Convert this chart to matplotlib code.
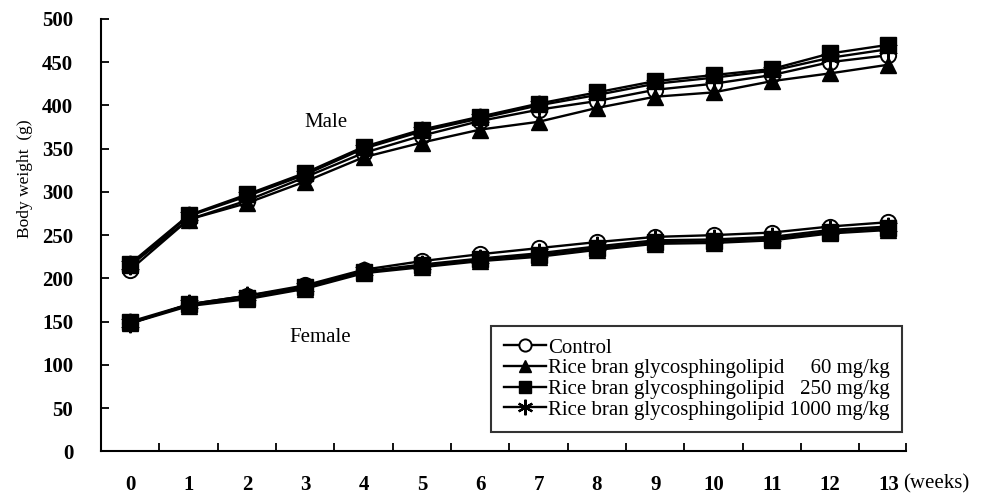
import matplotlib
matplotlib.use("Agg")
import matplotlib.pyplot as plt

plt.rcParams['font.family'] = ['Liberation Serif', 'DejaVu Serif']

# Data
weeks = list(range(14))
week_labels = [str(w) for w in weeks]

male_control = [210, 268, 290, 317, 345, 365, 382, 395, 405, 418, 425, 435, 450, 458]
male_60 = [215, 268, 287, 312, 340, 357, 372, 381, 397, 410, 415, 428, 437, 447]
male_250 = [217, 273, 297, 322, 352, 372, 387, 402, 415, 428, 435, 442, 460, 470]
male_1000 = [215, 272, 295, 320, 350, 370, 385, 400, 412, 425, 432, 440, 455, 465]

female_control = [148, 170, 180, 192, 210, 220, 228, 235, 242, 248, 250, 253, 260, 265]
female_60 = [148, 168, 176, 188, 206, 213, 220, 225, 233, 240, 241, 244, 252, 256]
female_250 = [150, 170, 177, 190, 207, 215, 222, 227, 235, 242, 243, 246, 254, 258]
female_1000 = [148, 170, 180, 190, 208, 216, 223, 229, 237, 244, 245, 248, 256, 260]

labels = ['Control',
          'Rice bran glycosphingolipid     60 mg/kg',
          'Rice bran glycosphingolipid   250 mg/kg',
          'Rice bran glycosphingolipid 1000 mg/kg']

fig = plt.figure(figsize=(9.82, 4.97), dpi=100)
ax = fig.add_axes([0.1029, 0.0916, 0.8197, 0.8705])

styles = [
    dict(marker='o', mfc='white', mec='black', ms=11, mew=1.4),
    dict(marker='^', mfc='black', mec='black', ms=11),
    dict(marker='s', mfc='black', mec='black', ms=11),
    dict(marker=(6, 2, 0), mfc='black', mec='black', ms=14, mew=1.6),
]

male = [male_control, male_60, male_250, male_1000]
female = [female_control, female_60, female_250, female_1000]

handles = []
for i in range(4):
    h, = ax.plot(weeks, male[i], color='black', lw=1.7, label=labels[i], **styles[i])
    ax.plot(weeks, female[i], color='black', lw=1.7, **styles[i])
    handles.append(h)

ax.text(3.35, 380, 'Male', fontsize=15, ha='center', va='center')
ax.text(3.26, 132, 'Female', fontsize=15, ha='center', va='center')

ax.set_xlim(-0.5, 13.3)
ax.set_ylim(0, 500)
ax.set_yticks(range(0, 501, 50))
ax.set_xticks(weeks)
ax.set_xticklabels(week_labels, fontsize=15, fontweight='bold')
ax.set_xticks([w + 0.5 for w in weeks[:-1]] + [13.3], minor=True)
ax.tick_params(axis='x', which='major', length=0, pad=17)
ax.tick_params(axis='x', which='minor', direction='in', length=6, width=1.3)
ax.tick_params(axis='y', direction='in', length=6, width=1.3, labelsize=15, pad=20)
for t in ax.get_yticklabels():
    t.set_fontweight('bold')

ax.spines['top'].set_visible(False)
ax.spines['right'].set_visible(False)
ax.spines['left'].set_linewidth(1.5)
ax.spines['bottom'].set_linewidth(1.5)

ax.set_ylabel('Body weight  (g)', fontsize=12.5)
ax.yaxis.set_label_coords(-0.085, 0.63)
fig.text(0.953, 0.026, '(weeks)', fontsize=15, ha='center', va='center')

leg = ax.legend(handles=handles, loc='lower right', bbox_to_anchor=(0.995, 0.045),
                fontsize=15, frameon=True, fancybox=False, edgecolor='black',
                handlelength=2.0, handletextpad=0.1, labelspacing=0.05,
                borderpad=0.6, borderaxespad=0.0, markerscale=0.8)
leg.get_frame().set_linewidth(1.5)

fig.savefig('out.png', dpi=100)
